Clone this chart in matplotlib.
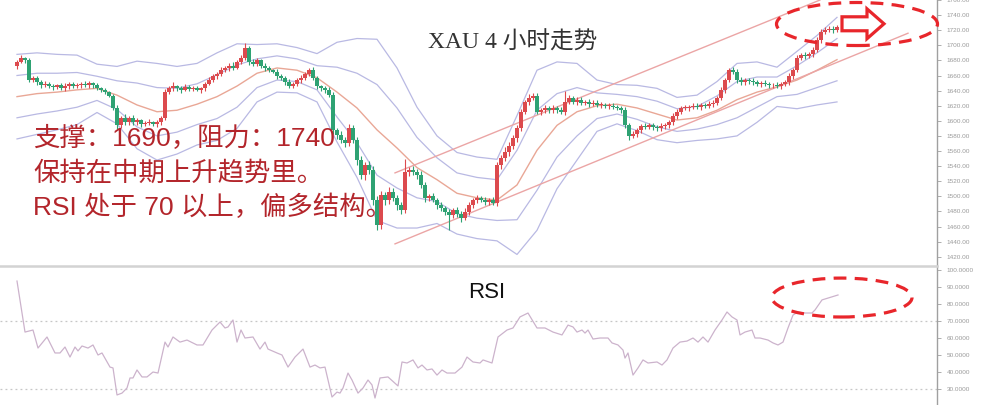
import numpy as np
import matplotlib
matplotlib.use("Agg")
import matplotlib.pyplot as plt
from matplotlib.patches import Ellipse, FancyArrow

plt.rcParams['font.family'] = ['Liberation Sans', 'Noto Sans CJK SC']

# ---- data ----
# 4h closes, one per candle (opens continue from the previous close)
first_open = 1672
closes = [
    1678, 1683, 1680, 1654, 1657, 1651, 1647, 1649, 1646, 1645,
    1647, 1643, 1646, 1649, 1646, 1647, 1649, 1647, 1650, 1647,
    1643, 1641, 1638, 1633, 1617, 1594, 1604, 1598, 1604, 1598,
    1601, 1596, 1597, 1598, 1596, 1598, 1604, 1638, 1643, 1646,
    1643, 1641, 1645, 1642, 1643, 1641, 1643, 1649, 1654, 1659,
    1662, 1667, 1670, 1673, 1670, 1678, 1683, 1696, 1678, 1675,
    1680, 1673, 1670, 1667, 1665, 1659, 1657, 1651, 1646, 1649,
    1654, 1657, 1662, 1667, 1657, 1646, 1643, 1641, 1634, 1588,
    1581, 1575, 1571, 1590, 1575, 1548, 1528, 1541, 1535, 1495,
    1462, 1502, 1495, 1506, 1498, 1488, 1482, 1532, 1535, 1532,
    1528, 1515, 1498, 1500, 1495, 1488, 1484, 1479, 1475, 1482,
    1477, 1471, 1479, 1488, 1495, 1498, 1495, 1492, 1495, 1491,
    1541, 1551, 1559, 1567, 1577, 1590, 1612, 1625, 1630, 1633,
    1612, 1614, 1617, 1614, 1617, 1614, 1612, 1625, 1630, 1625,
    1628, 1624, 1625, 1622, 1624, 1621, 1621, 1620, 1620, 1618,
    1617, 1614, 1594, 1580, 1582, 1588, 1593, 1592, 1594, 1592,
    1590, 1593, 1594, 1598, 1606, 1612, 1617, 1617, 1618, 1620,
    1618, 1621, 1620, 1622, 1624, 1630, 1641, 1654, 1667, 1665,
    1654, 1651, 1654, 1653, 1651, 1649, 1650, 1649, 1647, 1647,
    1646, 1649, 1651, 1659, 1667, 1683, 1687, 1686, 1688, 1694,
    1707, 1718, 1720, 1722, 1720, 1724,
]
upper_wick = [
    3, 4, 2, 3, 3, 2, 3, 4, 2, 3,
    2, 3, 4, 2, 3, 3, 2, 4, 3, 2,
    3, 2, 3, 2, 3, 4, 3, 5, 3, 4,
    3, 2, 3, 4, 2, 3, 3, 4, 3, 5,
    2, 3, 4, 2, 3, 3, 2, 3, 4, 3,
    3, 4, 2, 3, 5, 3, 4, 7, 3, 4,
    3, 2, 4, 3, 2, 3, 3, 2, 4, 3,
    3, 4, 3, 3, 4, 3, 2, 3, 4, 4,
    3, 5, 4, 6, 5, 4, 6, 5, 6, 5,
    6, 5, 4, 6, 5, 4, 5, 18, 4, 5,
    4, 5, 4, 3, 4, 3, 5, 3, 4, 3,
    4, 3, 5, 4, 3, 4, 3, 4, 3, 4,
    5, 4, 6, 5, 4, 5, 4, 3, 5, 4,
    4, 3, 4, 3, 4, 3, 4, 15, 4, 3,
    3, 4, 3, 4, 3, 3, 4, 3, 3, 4,
    3, 3, 4, 3, 4, 3, 3, 4, 3, 3,
    3, 4, 3, 3, 4, 3, 3, 4, 3, 3,
    4, 3, 3, 4, 3, 3, 4, 3, 3, 4,
    3, 4, 3, 3, 4, 3, 3, 4, 3, 3,
    4, 3, 3, 4, 3, 4, 3, 4, 3, 4,
    4, 3, 4, 3, 4, 3,
]
lower_wick = [
    3, 2, 3, 3, 2, 4, 3, 2, 3, 4,
    3, 2, 3, 4, 2, 3, 3, 2, 3, 4,
    2, 3, 3, 2, 3, 5, 3, 4, 3, 4,
    3, 4, 3, 2, 3, 4, 3, 3, 2, 3,
    3, 4, 2, 3, 3, 2, 4, 3, 2, 3,
    3, 2, 3, 4, 3, 2, 3, 3, 4, 3,
    2, 3, 4, 3, 2, 3, 3, 4, 3, 2,
    3, 4, 3, 2, 3, 4, 3, 4, 3, 5,
    5, 4, 6, 4, 5, 6, 5, 6, 5, 6,
    7, 5, 6, 5, 4, 6, 5, 4, 5, 4,
    5, 4, 5, 4, 3, 5, 4, 4, 20, 4,
    4, 5, 3, 4, 3, 4, 3, 3, 4, 3,
    4, 5, 4, 5, 4, 5, 4, 3, 4, 3,
    3, 4, 3, 4, 3, 4, 3, 4, 3, 3,
    4, 3, 3, 4, 3, 3, 4, 3, 4, 3,
    3, 4, 4, 5, 3, 3, 4, 3, 3, 4,
    3, 3, 4, 3, 3, 4, 3, 3, 4, 3,
    3, 4, 3, 3, 4, 3, 3, 4, 3, 3,
    4, 3, 3, 4, 3, 3, 4, 3, 3, 4,
    3, 4, 3, 3, 4, 3, 3, 4, 3, 3,
    3, 4, 3, 3, 4, 3,
]

# bollinger lines, read every 5 candles
band_idx = list(range(0, 206, 5))
bb_mid = [1632, 1636, 1638, 1641, 1643, 1634, 1621, 1612, 1614, 1622,
          1632, 1646, 1663, 1670, 1667, 1657, 1638, 1617, 1588, 1564,
          1538, 1522, 1504, 1498, 1495, 1515, 1561, 1594, 1612, 1620,
          1622, 1617, 1609, 1601, 1604, 1614, 1628, 1638, 1645, 1654,
          1667, 1681]
bb_up1 = [1660, 1663, 1663, 1664, 1659, 1653, 1650, 1644, 1643, 1649,
          1661, 1674, 1682, 1686, 1682, 1673, 1671, 1663, 1648, 1617,
          1578, 1551, 1531, 1525, 1522, 1561, 1614, 1636, 1644, 1637,
          1635, 1632, 1626, 1616, 1619, 1633, 1652, 1658, 1658, 1673,
          1690, 1709]
bb_up2 = [1688, 1690, 1688, 1687, 1675, 1672, 1679, 1676, 1672, 1676,
          1690, 1702, 1701, 1702, 1697, 1689, 1704, 1709, 1708, 1670,
          1618, 1580, 1558, 1552, 1549, 1607, 1667, 1678, 1676, 1654,
          1648, 1647, 1643, 1631, 1634, 1652, 1676, 1678, 1671, 1692,
          1713, 1737]
bb_lo1 = [1604, 1609, 1613, 1618, 1627, 1615, 1592, 1580, 1585, 1595,
          1603, 1618, 1644, 1654, 1652, 1641, 1605, 1571, 1528, 1511,
          1498, 1493, 1477, 1471, 1468, 1469, 1508, 1552, 1580, 1603,
          1609, 1602, 1592, 1586, 1589, 1595, 1604, 1618, 1632, 1635,
          1644, 1653]
bb_lo2 = [1576, 1582, 1588, 1595, 1611, 1596, 1563, 1548, 1556, 1568,
          1574, 1590, 1625, 1638, 1637, 1625, 1572, 1525, 1468, 1458,
          1458, 1464, 1450, 1444, 1441, 1423, 1455, 1510, 1548, 1586,
          1596, 1587, 1575, 1571, 1574, 1576, 1580, 1598, 1619, 1616,
          1621, 1625]

# hand-drawn trend channel (candle index, price)
chan_up_x, chan_up_y = [94.5, 200.75], [1531, 1760]
chan_lo_x, chan_lo_y = [94.5, 222.75], [1437, 1716]

# RSI line vertices (candle index, value)
rsi_idx = [0, 2, 4, 5.25, 7.5, 9.5, 10.75, 12, 13.25, 14.5, 15.25, 16.25, 17.75, 19,
           20.25, 21.25, 23.25, 24, 25, 26.25, 27.5, 28.25, 29, 30, 31.25, 32.5, 34,
           35.25, 37, 37.75, 39, 40.75, 42.5, 45, 46.5, 48.75, 50.75, 52, 52.75, 54,
           55, 56, 57, 59, 60.75, 62, 62.75, 65, 66.25, 67.75, 69.5, 71.5, 73.25,
           74.5, 75.75, 77, 78.75, 80, 80.75, 81.5, 82.75, 83.75, 85.25, 86.5, 87.75,
           88.75, 89.5, 90.75, 92.75, 95.25, 96.25, 97.5, 99, 100.25, 101.25, 102.5,
           103.75, 105, 106.25, 107.5, 109.5, 111.25, 112.5, 114, 115.75, 116.5,
           118.75, 120.25, 122.5, 124, 125.75, 127.75, 130, 132, 134, 136.25, 137.75,
           139, 140, 141.25, 142, 142.75, 144, 145.75, 147.75, 148.75, 150.25, 151.5,
           152, 152.75, 154, 155.25, 156.5, 157.75, 160, 161.25, 162.5, 164, 165.75,
           167.5, 169, 170.25, 171.5, 172.75, 174.5, 176.25, 177.5, 178.75, 180,
           180.75, 182, 183.75, 184.5, 185.75, 187.75, 189, 190.25, 191.5, 192.75,
           194, 195.25, 196.5, 198.75, 199.5, 201.25, 202.75, 205.25]
rsi_val = [93.5, 63.5, 64.7, 54.1, 60.6, 51.2, 51.2, 54.7, 48.8, 54.7, 52.4, 55.3, 54.1, 55.9,
           50.0, 51.2, 42.9, 42.4, 26.5, 27.6, 30.6, 36.5, 36.5, 41.2, 37.1, 37.1, 40.0,
           39.4, 57.6, 54.7, 60.6, 57.6, 58.8, 55.9, 55.9, 64.7, 69.4, 65.9, 66.5, 70.6,
           57.6, 64.7, 60.0, 60.6, 53.5, 57.6, 53.5, 51.2, 50.0, 42.9, 48.8, 53.5, 42.9,
           44.1, 42.4, 42.9, 25.3, 28.2, 27.6, 30.6, 39.4, 35.3, 27.6, 30.6, 35.3,
           32.4, 24.7, 36.5, 37.1, 31.8, 45.9, 45.3, 47.1, 42.4, 44.1, 41.2,
           41.8, 38.2, 41.2, 39.4, 39.4, 42.9, 48.8, 45.9, 45.3, 47.1,
           45.3, 60.6, 64.7, 65.9, 72.4, 74.7, 65.9, 65.9, 63.5, 61.8, 67.6,
           66.5, 63.5, 64.7, 62.9, 64.7, 59.4, 60.0, 60.0, 57.1, 55.9, 52.9,
           48.2, 51.2, 38.2, 42.4, 47.1, 45.3, 45.9, 44.1, 47.1, 54.1, 57.6,
           58.2, 60.0, 57.6, 60.6, 57.6, 64.7, 70.6, 75.3, 72.4, 70.6,
           61.8, 63.5, 64.7, 60.0, 60.0, 58.8, 57.1, 55.9, 57.6, 65.9,
           73.5, 75.3, 74.7, 74.7, 76.5, 82.4, 83.5, 85.3]

price_ticks = list(range(1420, 1761, 20))
rsi_ticks = list(range(30, 101, 10))

# ---- figure ----
RED_UP = '#dc4a4e'
GREEN_DN = '#2ea273'
LAV = '#b9b9e3'
SALMON = '#e9a796'
CHAN = '#eba5a5'
MARK = '#e8262b'
AXC = '#a0a0a0'

fig = plt.figure(figsize=(9.86, 4.05), dpi=100)
split = 1 - 266 / 405
right = 937 / 986
ax = fig.add_axes([0, split, right, 1 - split])
ax2 = fig.add_axes([0, 0, right, split])

xlim = (-4.25, 230)

# candles
o = np.array([first_open] + closes[:-1], dtype=float)
c = np.array(closes, dtype=float)
hi = np.maximum(o, c) + np.array(upper_wick)
lo = np.minimum(o, c) - np.array(lower_wick)
xi = np.arange(len(closes))
col = np.where(c >= o, RED_UP, GREEN_DN)

for line in (bb_up2, bb_up1, bb_lo1, bb_lo2):
    ax.plot(band_idx, line, color=LAV, lw=0.9, zorder=1)
ax.plot(band_idx, bb_mid, color=SALMON, lw=1.0, zorder=1)
ax.plot(chan_up_x, chan_up_y, color=CHAN, lw=1.0, zorder=1)
ax.plot(chan_lo_x, chan_lo_y, color=CHAN, lw=1.0, zorder=1)

ax.vlines(xi, lo, hi, colors=col, lw=0.8, zorder=2)
body = np.maximum(np.abs(c - o), 1.0)
ax.bar(xi, body, bottom=np.minimum(o, c), width=0.8, color=col, zorder=3)

ax.set_xlim(*xlim)
ax.set_ylim(1407.7, 1760)
ax.set_xticks([])
ax.set_yticks(price_ticks)
ax.set_yticklabels([f'{v:.2f}' for v in price_ticks])
ax.yaxis.tick_right()
ax.tick_params(axis='y', direction='out', length=3, width=0.6, color=AXC,
               labelcolor='#9a9a9a', labelsize=4.6, pad=4)
for s in ('top', 'left', 'bottom'):
    ax.spines[s].set_visible(False)
ax.spines['right'].set_color(AXC)
ax.spines['right'].set_linewidth(1.0)

ax.text(0.5475, 0.842, 'XAU 4 小时走势', transform=ax.transAxes, ha='center', va='center',
        fontsize=17, color='#333333', family=['Liberation Serif', 'Noto Sans CJK SC'],
        zorder=6)

notes = ['支撑：1690，阻力：1740', '保持在中期上升趋势里。', 'RSI 处于 70 以上，偏多结构。']
for k, t in enumerate(notes):
    ax.text(33 / 937, 1 - (138.5 + 34.5 * k) / 266, t, transform=ax.transAxes,
            ha='left', va='center', fontsize=19, color='#b3252b', zorder=6)

ax.add_patch(Ellipse((210, 1728.2), 40.25, 57, fill=False, ec=MARK, lw=2.3,
                     ls=(0, (4, 2.6)), clip_on=False, zorder=7))
ax.add_patch(FancyArrow(206.25, 1728.5, 10.5, 0, width=18.5, head_width=39.5,
                        head_length=4.25, length_includes_head=True, fc='white',
                        ec=MARK, lw=2.3, zorder=7))

# RSI panel
ax2.plot(rsi_idx, rsi_val, color='#ccb3cc', lw=0.9, zorder=2)
for lvl in (70, 30):
    ax2.axhline(lvl, color='#c6c6c6', lw=0.9, ls=(0, (1.5, 2.5)), zorder=1)
ax2.set_xlim(*xlim)
ax2.set_ylim(20.6, 102.35)
ax2.set_xticks([])
ax2.set_yticks(rsi_ticks)
ax2.set_yticklabels([f'{v:.4f}' for v in rsi_ticks])
ax2.yaxis.tick_right()
ax2.tick_params(axis='y', direction='out', length=3, width=0.6, color=AXC,
                labelcolor='#9a9a9a', labelsize=4.6, pad=4)
for s in ('left', 'bottom'):
    ax2.spines[s].set_visible(False)
ax2.spines['right'].set_color(AXC)
ax2.spines['right'].set_linewidth(1.0)
ax2.spines['top'].set_color('#d3d3d3')
ax2.spines['top'].set_linewidth(1.8)

ax2.text(117.5, 86.5, 'RSI', ha='center', va='center', fontsize=16, color='#111111')
ax2.add_patch(Ellipse((206.25, 83.8), 35, 22.9, fill=False, ec=MARK, lw=2.3,
                      ls=(0, (4, 2.6)), clip_on=False, zorder=7))

fig.savefig('out.png', dpi=100)
